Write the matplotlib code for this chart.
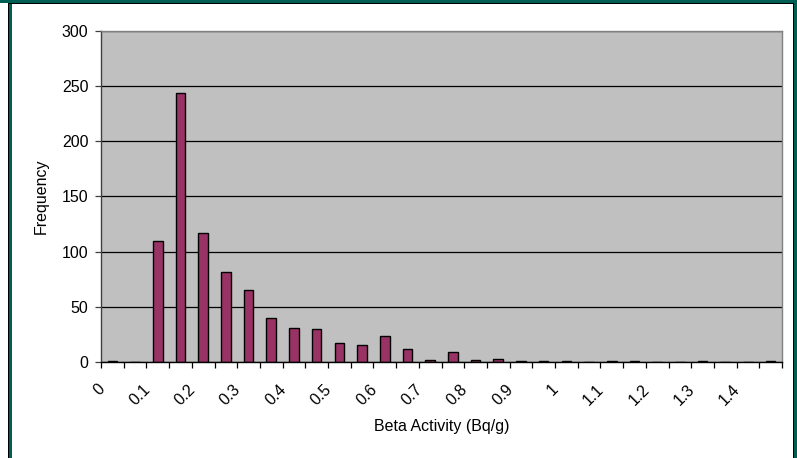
import matplotlib.pyplot as plt
import matplotlib.transforms as mtransforms
from matplotlib.patches import Rectangle

plt.rcParams['font.family'] = ['Liberation Sans', 'DejaVu Sans']

# bins of 0.05 Bq/g, every second one labelled
BIN_LABELS = ["0", "", "0.1", "", "0.2", "", "0.3", "", "0.4", "", "0.5", "",
              "0.6", "", "0.7", "", "0.8", "", "0.9", "", "1", "", "1.1", "",
              "1.2", "", "1.3", "", "1.4", ""]
FREQ = [1, 0, 110, 244, 117, 82, 65, 40, 31, 30, 17, 15, 24, 12, 2,
        9, 2, 3, 1, 1, 1, 0, 1, 1, 0, 0, 1, 0, 0, 1]

BAR_COLOR = '#993366'
PLOT_BG = '#c0c0c0'
FRAME = '#005f55'
FS = 11.5


def draw():
    fig = plt.figure(figsize=(7.97, 4.58), dpi=100)
    ax = fig.add_axes([101 / 797, 96 / 458, 681 / 797, 331 / 458])
    ax.set_facecolor(PLOT_BG)

    pos = list(range(len(FREQ)))
    ax.bar(pos, FREQ, width=0.42, color=BAR_COLOR, edgecolor='black',
           linewidth=1.0, zorder=3)

    ax.set_xlim(-0.5, len(FREQ) - 0.5)
    ax.set_ylim(0, 300)

    # horizontal grid
    ax.set_yticks(range(0, 301, 50))
    ax.yaxis.grid(True, color='black', linewidth=0.9, zorder=1)
    ax.set_axisbelow(True)

    ax.spines['top'].set_color('#808080')
    ax.spines['right'].set_color('#808080')
    ax.spines['left'].set_color('#404040')
    ax.spines['bottom'].set_color('black')
    for s in ax.spines.values():
        s.set_linewidth(1.0)
        s.set_zorder(4)

    ax.tick_params(axis='y', direction='out', length=4, width=0.9, pad=5,
                   labelsize=FS, color='#404040')

    # category boundaries get tick marks, labels sit under every second bin
    ax.set_xticks([p - 0.5 for p in range(len(FREQ) + 1)], minor=True)
    ax.set_xticks(pos[::2])
    ax.set_xticklabels(BIN_LABELS[::2], rotation=45, ha='right', va='top')
    ax.tick_params(axis='x', which='minor', direction='out', length=4,
                   width=0.9, color='black')
    ax.tick_params(axis='x', which='major', length=0, pad=14, labelsize=FS)
    shift = mtransforms.ScaledTranslation(-5 / 100, 0, fig.dpi_scale_trans)
    for lab in ax.get_xticklabels():
        lab.set_transform(lab.get_transform() + shift)

    ax.set_xlabel("Beta Activity (Bq/g)", fontsize=FS)
    ax.xaxis.set_label_coords(0.5, -0.173)
    ax.set_ylabel("Frequency", fontsize=FS, va='center')
    ax.yaxis.set_label_coords(-0.088, 0.5)

    # chart frame
    ident = mtransforms.IdentityTransform()
    for x, y, w, h, c in [(0, 455, 797, 3, FRAME), (8, 454, 787, 1, 'black'),
                          (8, 0, 1, 455, 'black'), (9, 0, 3, 454, FRAME),
                          (793, 0, 1, 455, 'black'), (794, 0, 3, 455, FRAME)]:
        fig.add_artist(Rectangle((x, y), w, h, transform=ident,
                                 facecolor=c, edgecolor='none'))

    fig.savefig("out.png", dpi=100)


if __name__ == "__main__":
    draw()
